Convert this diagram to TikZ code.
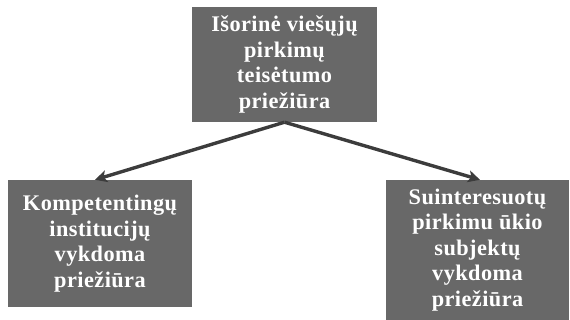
\documentclass[tikz,border=0pt]{standalone}
\usepackage{fontspec}
\setmainfont{Liberation Serif}[LetterSpace=2]
\usetikzlibrary{arrows.meta}
\definecolor{boxgray}{HTML}{686868}
\definecolor{arrgray}{HTML}{3C3C3C}
\begin{document}
\begin{tikzpicture}[x=1pt,y=1pt,
  box/.style={draw=none,fill=boxgray,text=white,align=center,inner sep=0pt,
    font=\fontsize{22.3}{25.5}\selectfont\bfseries},
  arr/.style={draw=arrgray,line width=3.4pt,-{Stealth[length=12pt,width=12pt,inset=3pt]}}]
\useasboundingbox (0,0) rectangle (570,320);
\node[box,minimum width=185pt,minimum height=115pt] (top) at (284.5,255.5)
  {Išorinė viešųjų\\pirkimų\\teisėtumo\\priežiūra};
\node[box,minimum width=184pt,minimum height=127pt] (left) at (100,76.5)
  {Kompetentingų\\institucijų\\vykdoma\\priežiūra};
\node[box,minimum width=183pt,minimum height=140pt] (right) at (477.5,70)
  {Suinteresuotų\\pirkimu ūkio\\subjektų\\vykdoma\\priežiūra};
\draw[arr] (top.south) -- ([xshift=-5pt]left.north);
\draw[arr] (top.south) -- ([xshift=2.5pt]right.north);
\end{tikzpicture}
\end{document}
